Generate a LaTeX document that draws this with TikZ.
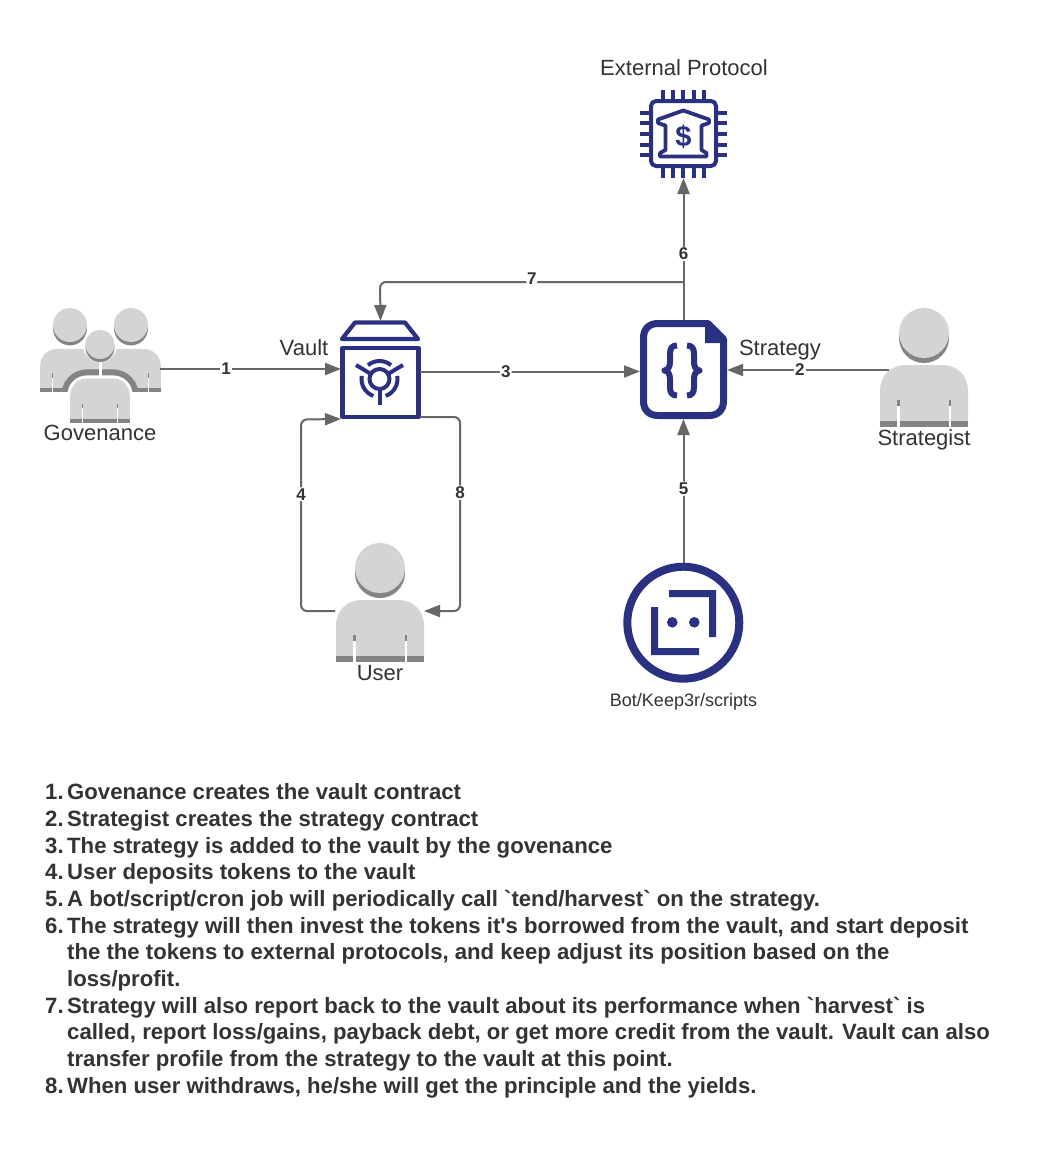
\documentclass[tikz,border=0pt]{standalone}
\usepackage{fontspec}
\setmainfont{Liberation Sans}[Ligatures=TeXOff]
\usetikzlibrary{arrows.meta}
\definecolor{navy}{HTML}{2A3180}
\definecolor{lightp}{HTML}{D3D4D4}
\definecolor{darkp}{HTML}{848484}
\definecolor{conn}{HTML}{666666}
\definecolor{txt}{HTML}{333333}
\newcommand{\bodyshape}{(-44,113) -- (-44,83) .. controls (-44,67) and (-33,57) .. (-18,57) -- (18,57) .. controls (33,57) and (44,67) .. (44,83) -- (44,113) -- cycle}
\newcommand{\personhead}[3]{%
 \begin{scope}[shift={(#1,#2)},scale=#3]
  \fill[darkp] (0,30) circle (25);
  \fill[lightp] (0,25) circle (25);
 \end{scope}}
\newcommand{\personbody}[4]{%
 \begin{scope}[shift={(#1,#2)},xscale=#3,yscale=#4]
  \fill[lightp] \bodyshape;
  \fill[darkp] (-44,113) rectangle (44,119);
  \fill[darkp] (-27,92) rectangle (-24.5,98);
  \fill[darkp] (24.5,92) rectangle (27,98);
  \fill[white] (-27,98) rectangle (-24.5,119);
  \fill[white] (24.5,98) rectangle (27,119);
 \end{scope}}
\newcommand{\frontarc}[3]{%
 \begin{scope}
  \clip[shift={(#1,#2)},xscale=#3,yscale=.7] \bodyshape;
  \begin{scope}[shift={(100,337)},xscale=.68,yscale=.725]
   \draw[darkp,line width=18pt] \bodyshape;
  \end{scope}
 \end{scope}}
\tikzset{
 x=1pt,y=-1pt,
 iconbox/.style={inner sep=0pt,outer sep=0pt,draw=none,fill=none},
 connline/.style={draw=conn,line width=2pt,rounded corners=6pt,-{Triangle[length=16pt,width=12pt]}},
 numlab/.style={font=\fontsize{17}{18}\selectfont\bfseries,text=txt,fill=white,inner sep=1.2pt},
 caption/.style={font=\fontsize{22}{26}\selectfont,text=txt,inner sep=0pt},
 listline/.style={font=\fontsize{22.15}{26}\selectfont\bfseries,text=txt,inner sep=0pt,anchor=base west},
 navyline/.style={draw=navy,line join=round},
}
\begin{document}
\begin{tikzpicture}
\useasboundingbox (0,0) rectangle (1040,1160);
\fill[white] (0,0) rectangle (1040,1160);

% icon anchor boxes
\node[iconbox,minimum width=120pt,minimum height=115pt] (gov) at (100,365.5) {};
\node[iconbox,minimum width=79pt,minimum height=98pt] (vault) at (380.5,370) {};
\node[iconbox,minimum width=87pt,minimum height=99pt] (strat) at (683.5,369.5) {};
\node[iconbox,minimum width=88pt,minimum height=119pt] (strategist) at (924,367.5) {};
\node[iconbox,minimum width=88pt,minimum height=119pt] (user) at (380,602.5) {};
\node[iconbox,minimum width=120pt,minimum height=120pt] (bot) at (683.5,622.5) {};
\node[iconbox,minimum width=87pt,minimum height=88pt] (ext) at (683.5,134) {};

% Governance
\personhead{70}{308}{0.68}
\personhead{131}{308}{0.68}
\personbody{70}{309}{0.68}{0.7}
\personbody{131}{309}{0.68}{0.7}
\frontarc{70}{309}{0.68}
\frontarc{131}{309}{0.68}
\fill[white] (98.5,349) rectangle (102,393);
\begin{scope}[shift={(100,337)},xscale=.68,yscale=.725]
 \draw[white,line width=6pt] \bodyshape;
 \fill[white] (-48,105) rectangle (48,119);
\end{scope}
\fill[white] (100,344.5) circle (17);
\personbody{100}{337}{0.68}{0.725}
\personhead{100}{330}{0.58}

% Strategist and user
\personhead{924}{308}{1}
\personbody{924}{308}{1}{1}
\personhead{380}{543}{1}
\personbody{380}{543}{1}{1}

% Vault
\draw[navyline,line width=4.2pt] (355,322.5) -- (405,322.5) -- (418,339) -- (342,339) -- cycle;
\draw[navyline,line width=4.8pt] (342.5,348) rectangle (418.5,417);
\draw[navy,line width=4pt] (379.5,379) circle (10);
\draw[navy,line width=4pt] (379.5,379) ++(-130:18) arc (-130:-50:18);
\draw[navy,line width=4pt] (379.5,379) ++(-10:18) arc (-10:70:18);
\draw[navy,line width=4pt] (379.5,379) ++(110:18) arc (110:190:18);
\draw[navy,line width=4pt] (379.5,389) -- (379.5,405);
\draw[navy,line width=4pt] (371,374) -- (356,365);
\draw[navy,line width=4pt] (388,374) -- (403,365);

% Strategy document
\draw[navyline,line width=7pt] (708,323.5) -- (658,323.5) .. controls (649,323.5) and (643.5,329) .. (643.5,338) -- (643.5,401) .. controls (643.5,410) and (649,415.5) .. (658,415.5) -- (709,415.5) .. controls (718,415.5) and (723.5,410) .. (723.5,401) -- (723.5,339) -- cycle;
\fill[navy] (705,321) -- (709,321) -- (726,340) -- (726,343) -- (705,343) -- cycle;
\begin{scope}[line join=round,line cap=butt]
\draw[navy,line width=6pt] (677,345.5) .. controls (672,345.5) and (670,348) .. (670,354) -- (670,362) .. controls (670,367) and (668,370) .. (664.5,370.5) .. controls (668,371) and (670,374) .. (670,379) -- (670,387) .. controls (670,393) and (672,395.5) .. (677,395.5);
\draw[navy,line width=6pt] (687,345.5) .. controls (692,345.5) and (694,348) .. (694,354) -- (694,362) .. controls (694,367) and (696,370) .. (699.5,370.5) .. controls (696,371) and (694,374) .. (694,379) -- (694,387) .. controls (694,393) and (692,395.5) .. (687,395.5);
\end{scope}

% External protocol chip
\draw[navyline,line width=4pt,rounded corners=5pt] (651,101) rectangle (716,166);
\foreach \p in {662.7,673,683.3,693.6,704}{
 \draw[navy,line width=4pt] (\p,90) -- (\p,100);
 \draw[navy,line width=4pt] (\p,167) -- (\p,178);
}
\foreach \p in {112.7,123.3,134,144.7,155}{
 \draw[navy,line width=4pt] (640,\p) -- (650,\p);
 \draw[navy,line width=4pt] (717,\p) -- (727,\p);
}
\draw[navyline,line width=3.8pt] (683.3,110.5) -- (709,119.5) -- (709,123) -- (701.5,125.5) -- (701.5,150) -- (706.5,153) -- (706.5,156.5) -- (660,156.5) -- (660,153) -- (665.5,150) -- (665.5,125.5) -- (658,123) -- (658,119.5) -- cycle;
\node[inner sep=0pt,text=navy,font=\fontsize{29}{30}\selectfont\bfseries] (dollar) at (683.5,136.5) {\$};

% Bot
\draw[navy,line width=8pt] (683.3,622.7) circle (56);
\fill[navy] (669,590) -- (716,590) -- (716,637) -- (709,637) -- (709,597) -- (669,597) -- cycle;
\fill[navy] (651,607) -- (658,607) -- (658,648) -- (699,648) -- (699,655) -- (651,655) -- cycle;
\fill[navy] (672.3,622.3) circle (5.3);
\fill[navy] (694.3,622.3) circle (5.3);

% Connectors
\coordinate (c7a) at (683.5,282);
\coordinate (c7b) at (380,282);
\coordinate (c4a) at (301,611);
\coordinate (c4b) at (301,419.5);
\coordinate (c8a) at (460,417);
\coordinate (c8b) at (460,611);
\draw[connline] ([yshift=-3.5pt]gov.east) -- node[numlab,pos=.365] {1} ([yshift=1pt]vault.west);
\draw[connline] ([yshift=-1.5pt]vault.east) -- node[numlab,pos=.39] {3} ([yshift=-2pt]strat.west);
\draw[connline] ([yshift=-2.5pt,xshift=9pt]strategist.west) -- node[numlab,pos=.55] {2} ([yshift=-.5pt]strat.east);
\draw[connline] (strat.north) -- node[numlab,pos=.465] {6} (ext.south);
\draw[connline] (strat.north |- c7a) -- node[numlab,pos=.5,yshift=3.5pt] {7} (c7b) -- (vault.north);
\draw[draw=conn,line width=2pt] (strat.north) -- (strat.north |- c7a);
\draw[connline] (bot.north) -- node[numlab,pos=.514] {5} (strat.south);
\draw[connline] ([xshift=-1pt]user.west |- c4a) -- (c4a) -- node[numlab,pos=.61] {4} (c4b) -- (vault.south west);
\draw[connline] ([yshift=2pt]vault.south east) -- (c8a) -- node[numlab,pos=.39] {8} (c8b) -- (user.east |- c8b);

% Captions
\node[caption] (tExt) at (684,68) {External Protocol};
\node[caption] (tVault) at (304,348) {Vault};
\node[caption] (tStrat) at (780,350) {Strategy};
\node[caption] (tGov) at (100,433) {Govenance};
\node[caption] (tStrategist) at (924,440) {Strategist};
\node[caption] (tUser) at (380,673) {User};
\node[caption,font=\fontsize{18}{20}\selectfont] (tBot) at (683.5,702) {Bot/Keep3r/scripts};

% Numbered list
\node[listline] (n1) at (45,799) {1.};
\node[listline] (l1) at (67,799) {Govenance creates the vault contract};
\node[listline] (n2) at (45,826) {2.};
\node[listline] (l2) at (67,826) {Strategist creates the strategy contract};
\node[listline] (n3) at (45,853) {3.};
\node[listline] (l3) at (67,853) {The strategy is added to the vault by the govenance};
\node[listline] (n4) at (45,879.5) {4.};
\node[listline] (l4) at (67,879.5) {User deposits tokens to the vault};
\node[listline] (n5) at (45,906) {5.};
\node[listline] (l5) at (67,906) {A bot/script/cron job will periodically call `tend/harvest` on the strategy.};
\node[listline] (n6) at (45,933) {6.};
\node[listline] (l6a) at (67,933) {The strategy will then invest the tokens it's borrowed from the vault, and start deposit};
\node[listline] (l6b) at (67,959.5) {the the tokens to external protocols, and keep adjust its position based on the};
\node[listline] (l6c) at (67,986) {loss/profit.};
\node[listline] (n7) at (45,1013) {7.};
\node[listline] (l7a) at (67,1013) {Strategy will also report back to the vault about its performance when `harvest` is};
\node[listline] (l7b) at (67,1039.5) {called, report loss/gains, payback debt, or get more credit from the vault. Vault can also};
\node[listline] (l7c) at (67,1066) {transfer profile from the strategy to the vault at this point.};
\node[listline] (n8) at (45,1093) {8.};
\node[listline] (l8) at (67,1093) {When user withdraws, he/she will get the principle and the yields.};
\end{tikzpicture}
\end{document}
